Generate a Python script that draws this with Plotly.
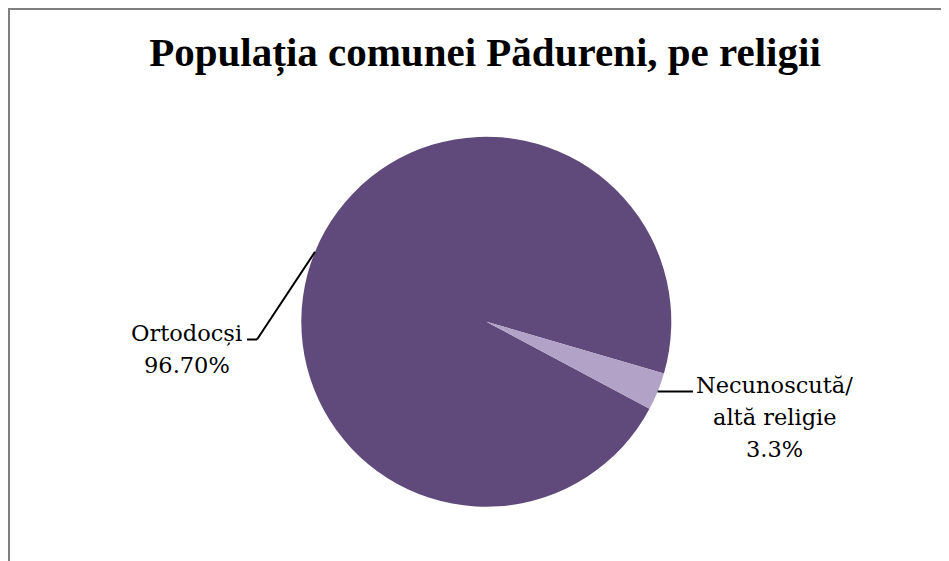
import math
import plotly.graph_objects as go

# ---- data ----
categories = ["Ortodocși", "Necunoscută/ altă religie"]
values = [96.7, 3.3]
label_lines = [["Ortodocși", "96.70%"], ["Necunoscută/", "altă religie", "3.3%"]]
title_text = "Populația comunei Pădureni, pe religii"

# ---- style / layout constants ----
W, H = 949, 561
OFF = 8.0                              # page body margin of the browser
colors = ["#604A7B", "#B3A2C7"]
CX, CY, R = 486.3, 321.7, 185.0        # pie centre / radius in screen pixels
ROTATION = 118.1                       # start angle of first slice (deg, clockwise from 12)
TITLE_FONT = "Liberation Serif"
LABEL_FONT = "DejaVu Serif"
LABEL_SIZE = 22.5
LINE_GAP = 32
# label anchor (center x, first baseline y) and leader elbow points, screen px
label_pos = [(186.5, 341.0), (774.5, 393.0)]
elbows = [[(257.0, 339.5), (247.0, 339.5)], [(693.0, None)]]


def px(x, y):
    return (x - OFF) / W, 1 - (y - OFF) / H


fig = go.Figure()
dx0, dy0 = px(CX - R, CY + R)
dx1, dy1 = px(CX + R, CY - R)
fig.add_trace(go.Pie(
    labels=categories, values=values, sort=False, direction="clockwise",
    rotation=ROTATION, marker=dict(colors=colors, line=dict(width=0)),
    textinfo="none", hoverinfo="label+percent", showlegend=False,
    domain=dict(x=[dx0, dx1], y=[dy0, dy1]),
))

shapes = []
annotations = []
total = sum(values)
start = ROTATION
for i, v in enumerate(values):
    span = 360.0 * v / total
    mid = math.radians(start + span / 2.0)
    start += span
    sx, sy = CX + R * math.sin(mid), CY - R * math.cos(mid)
    pts = [(sx, sy)]
    for ex, ey in elbows[i]:
        pts.append((ex, sy if ey is None else ey))
    for (x0, y0), (x1, y1) in zip(pts[:-1], pts[1:]):
        a0, b0 = px(x0, y0)
        a1, b1 = px(x1, y1)
        shapes.append(dict(type="line", xref="paper", yref="paper", x0=a0, y0=b0, x1=a1, y1=b1,
                           line=dict(color="#000000", width=2)))
    lx, ly = label_pos[i]
    for j, line in enumerate(label_lines[i]):
        ax, ay = px(lx, ly + j * LINE_GAP)
        annotations.append(dict(text=line, xref="paper", yref="paper", x=ax, y=ay,
                                xanchor="center", yanchor="bottom", yshift=-7,
                                showarrow=False,
                                font=dict(family=LABEL_FONT, size=LABEL_SIZE, color="#000000")))

# chart border (top-left visible, rest runs off the window)
bx, by = px(9.0, 9.0)
shapes.append(dict(type="rect", xref="paper", yref="paper",
                   x0=bx, x1=1.05, y0=-0.05, y1=by,
                   line=dict(color="#7F7F7F", width=2), fillcolor="rgba(0,0,0,0)"))

tx, ty = px(485.0, 37.0)
fig.update_layout(
    width=W, height=H,
    margin=dict(l=0, r=0, t=0, b=0),
    paper_bgcolor="#FFFFFF", plot_bgcolor="#FFFFFF",
    title=dict(text="<b>" + title_text + "</b>", x=tx, xanchor="center",
               y=ty, yanchor="top",
               font=dict(family=TITLE_FONT, size=41, color="#000000")),
    shapes=shapes, annotations=annotations,
)

fig.write_html("out.html")
